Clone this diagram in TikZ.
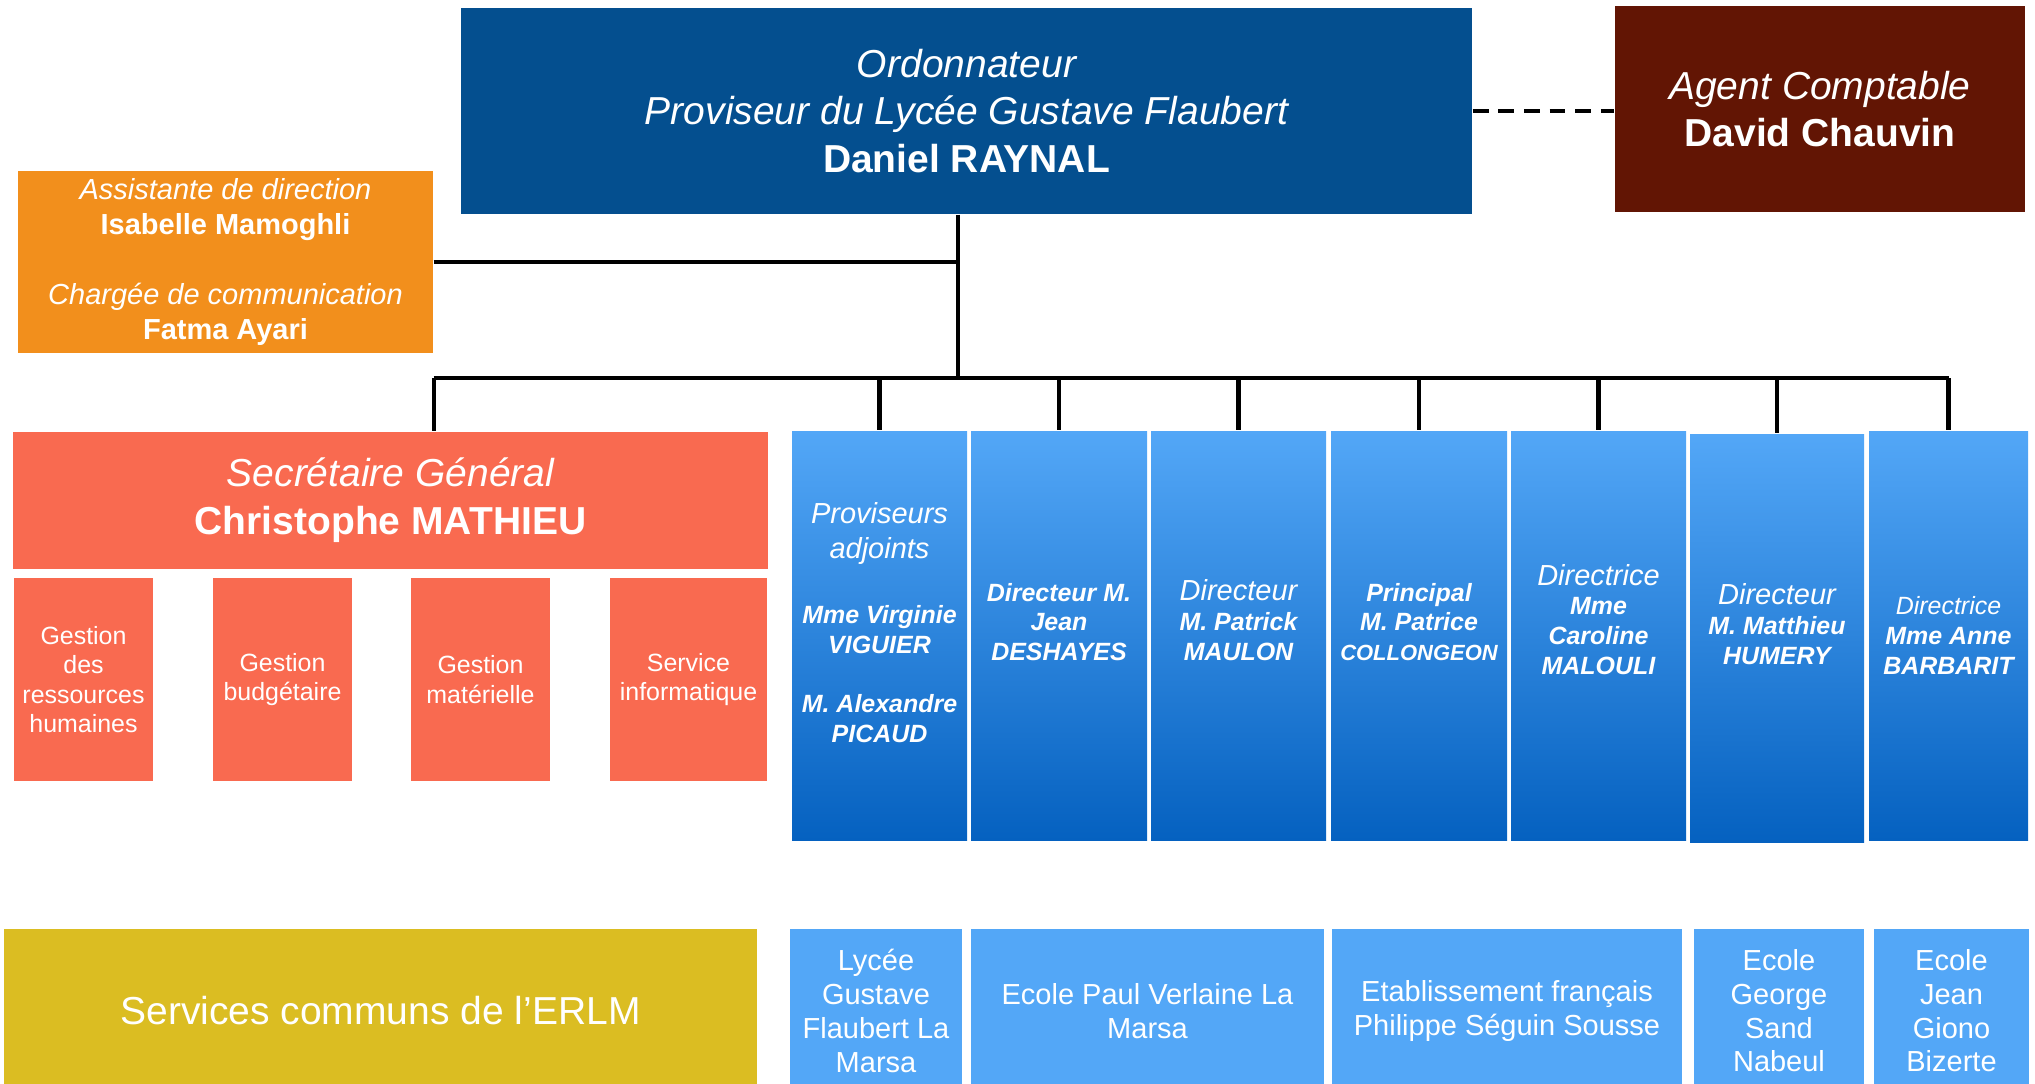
\documentclass[tikz,border=0pt]{standalone}
\usepackage{fontspec}
\setmainfont{Liberation Sans}

\definecolor{ordblue}{HTML}{044F8F}
\definecolor{agentred}{HTML}{621504}
\definecolor{assorange}{HTML}{F28F1C}
\definecolor{sgsalmon}{HTML}{F96A50}
\definecolor{erlmyellow}{HTML}{DBBD22}
\definecolor{colblue}{HTML}{53A7F7}
\definecolor{colbluedark}{HTML}{0561C0}

\newcommand\fsHead{\fontsize{11.1pt}{13.6pt}\selectfont}
\newcommand\fsAssist{\fontsize{8.25pt}{9.9pt}\selectfont}
\newcommand\fsSub{\fontsize{7.1pt}{8.3pt}\selectfont}
\newcommand\fsCol{\fontsize{7.1pt}{8.5pt}\selectfont\bfseries\itshape}
\newcommand\fsColIt{\fontsize{8.25pt}{8.5pt}\selectfont\mdseries}
\newcommand\fsColSm{\fontsize{6.25pt}{8.5pt}\selectfont}
\newcommand\fsSchool{\fontsize{8.25pt}{9.6pt}\selectfont}

\tikzset{
  box/.style={inner sep=0pt, text=white, align=center},
  link/.style={line width=1.15pt},
  colbox/.style={box, top color=colblue, bottom color=colbluedark, minimum width=17.5mm, minimum height=40.9mm},
  coltext/.style={inner sep=0pt, text=white, align=center, font=\fsCol},
  subbox/.style={box, fill=sgsalmon, minimum width=13.9mm, minimum height=20.3mm, font=\fsSub},
  school/.style={box, fill=colblue, minimum height=16.4mm, font=\fsSchool},
}

\begin{document}
\begin{tikzpicture}[x=0.1mm,y=-0.1mm]
\useasboundingbox (0,0) rectangle (2035,1083);
\clip (0,0) rectangle (2035,1083);

% direction
\node[box, fill=ordblue, minimum width=101.1mm, minimum height=20.6mm, font=\fsHead] (ord) at (966.5,111)
  {\itshape Ordonnateur\\ \itshape Proviseur du Lycée Gustave Flaubert\\ \bfseries Daniel RAYNAL};
\node[box, fill=agentred, minimum width=41mm, minimum height=20.6mm, font=\fsHead] (agent) at (1820,109)
  {\itshape Agent Comptable\\ \bfseries David Chauvin};
\node[box, fill=assorange, minimum width=41.5mm, minimum height=18.2mm, font=\fsAssist] (assist) at (225.5,262)
  {\itshape Assistante de direction\\ \bfseries Isabelle Mamoghli\\[9.9pt]
   \itshape Chargée de communication\\ \bfseries Fatma Ayari};

% secretariat general
\node[box, fill=sgsalmon, minimum width=75.5mm, minimum height=13.7mm, font=\fsHead] (sg) at (390.5,500.5)
  {\itshape Secrétaire Général\\ \bfseries Christophe MATHIEU};
\node[subbox] (g1) at (83.5,679.5) {Gestion\\ des\\ ressources\\ humaines};
\node[subbox] (g2) at (282.5,679.5) {Gestion\\ budgétaire};
\node[subbox] (g3) at (480.5,679.5) {Gestion\\ matérielle};
\node[subbox, minimum width=15.7mm] (g4) at (688.5,679.5) {Service\\ informatique};

% directeurs
\node[colbox] (c1) at (879.5,635.5) {};
\node[colbox, minimum width=17.6mm] (c2) at (1059,635.5) {};
\node[colbox] (c3) at (1238.5,635.5) {};
\node[colbox, minimum width=17.6mm] (c4) at (1419,635.5) {};
\node[colbox] (c5) at (1598.5,635.5) {};
\node[colbox, minimum width=17.4mm, minimum height=40.8mm] (c6) at (1777,638) {};
\node[colbox, minimum width=15.9mm] (c7) at (1948.5,635.5) {};

\node[coltext, yshift=1.3mm] (c1t) at (c1.center)
  {\fsColIt Proviseurs\\[1.4pt] \fsColIt adjoints\\[10.2pt] Mme Virginie\\ VIGUIER\\[8.2pt] M. Alexandre\\ PICAUD};
\node[coltext, yshift=1.35mm] (c2t) at (c2.center) {Directeur M.\\ Jean\\ DESHAYES};
\node[coltext, yshift=1.55mm] (c3t) at (c3.center) {\fsColIt Directeur\\ M. Patrick\\ MAULON};
\node[coltext, yshift=1.35mm] (c4t) at (c4.center) {Principal\\ M. Patrice\\ \fsColSm COLLONGEON};
\node[coltext, yshift=1.6mm] (c5t) at (c5.center) {\fsColIt Directrice\\ Mme\\ Caroline\\ MALOULI};
\node[coltext, yshift=1.4mm] (c6t) at (c6.center) {\fsColIt Directeur\\ M. Matthieu\\ HUMERY};
\node[coltext] (c7t) at (c7.center) {\mdseries Directrice\\ Mme Anne\\ BARBARIT};

% etablissements
\node[school, fill=erlmyellow, minimum width=75.3mm, font=\fsHead\mdseries] (erlm) at (380.5,1011) {Services communs de l’ERLM};
\node[school, minimum width=17.2mm] (s1) at (876,1011) {Lycée\\ Gustave\\ Flaubert La\\ Marsa};
\node[school, minimum width=35.3mm] (s2) at (1147.5,1011) {Ecole Paul Verlaine La\\ Marsa};
\node[school, minimum width=35mm] (s3) at (1507,1011) {Etablissement français\\ Philippe Séguin Sousse};
\node[school, minimum width=17mm] (s4) at (1779,1011) {Ecole\\ George\\ Sand\\ Nabeul};
\node[school, minimum width=15.5mm] (s5) at (1951.5,1011) {Ecole\\ Jean\\ Giono\\ Bizerte};

% liaisons
\coordinate (busy) at (0,378);
\coordinate (trunk) at ([xshift=-0.85mm]ord.south);
\draw[link] (trunk) -- (trunk |- busy);
\draw[link] (assist.east) -- (assist.east -| trunk);
\draw[link] (assist.east |- busy) -- (c7.north |- busy);
\draw[link] (assist.east |- busy) -- (assist.east |- sg.north);
\foreach \i in {1,...,7}
  \draw[link] (c\i.north |- busy) -- (c\i.north);
\draw[link, dash pattern=on 4.5pt off 2.8pt] (ord.east) -- (ord.east -| agent.west);

\end{tikzpicture}
\end{document}
